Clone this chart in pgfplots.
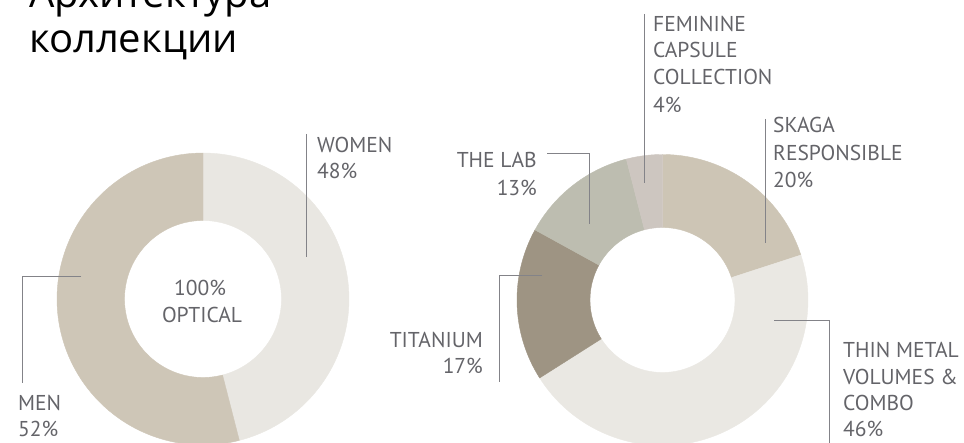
\documentclass[border=0pt]{standalone}
\usepackage{pgfplots}
\pgfplotsset{compat=1.18}
\usepackage{pgfplotstable}
\usepackage{fontspec}
\setmainfont{PT Sans}
\newfontfamily\titlefont{Open Sans}

\definecolor{cmen}{HTML}{CEC6B7}
\definecolor{cwomen}{HTML}{E9E7E2}
\definecolor{cskaga}{HTML}{CDC5B5}
\definecolor{cthin}{HTML}{EAE8E3}
\definecolor{ctitan}{HTML}{9E9483}
\definecolor{clab}{HTML}{BDBDB0}
\definecolor{cfem}{HTML}{CDC6C0}
\definecolor{leader}{HTML}{838388}
\definecolor{txt}{HTML}{646469}

% values as drawn (clockwise from 12 o'clock)
\pgfplotstableread{
label value color
Women 46 cwomen
Men 54 cmen
}\leftdata
\pgfplotstableread{
label value color
Skaga 20 cskaga
ThinMetal 46 cthin
Titanium 17 ctitan
TheLab 13 clab
Feminine 4 cfem
}\rightdata

% ring sector: cx cy R r from% to% colour
% t in [0,1]: outer arc, [1,2]: radial edge, [2,3]: inner arc back
\newcommand\ring[7]{%
  \addplot[fill=#7, draw=#7, line width=0.4pt, line join=round, domain=0:3, samples=301, variable=\t]
   ({#1 + (\t<=1 ? #3 : (\t<=2 ? #3-(#3-#4)*(\t-1) : #4))*sin(3.6*(\t<=1 ? #5+(#6-#5)*\t : (\t<=2 ? #6 : #6-(#6-#5)*(\t-2))))},
    {#2 + (\t<=1 ? #3 : (\t<=2 ? #3-(#3-#4)*(\t-1) : #4))*cos(3.6*(\t<=1 ? #5+(#6-#5)*\t : (\t<=2 ? #6 : #6-(#6-#5)*(\t-2))))}) -- cycle;
}
% donut from a table: table cx cy R r
\newcommand\donut[5]{%
  \pgfplotstablegetrowsof{#1}%
  \pgfmathtruncatemacro\nrows{\pgfplotsretval-1}%
  \xdef\cum{0}%
  \pgfplotsforeachungrouped \i in {0,...,\nrows}{%
    \pgfplotstablegetelem{\i}{value}\of#1\let\v\pgfplotsretval
    \pgfplotstablegetelem{\i}{color}\of#1\let\c\pgfplotsretval
    \pgfmathsetmacro\e{\cum+\v}%
    \edef\tmp{\noexpand\ring{#2}{#3}{#4}{#5}{\cum}{\e}{\c}}\tmp
    \xdef\cum{\e}%
  }%
}
\newcommand\lbl{\fontsize{21.5}{26}\selectfont\color{txt}}

\begin{document}
\begin{tikzpicture}
\begin{axis}[width=964pt, height=442pt, scale only axis,
  xmin=0, xmax=964, ymin=0, ymax=442,
  axis lines=none, xtick=\empty, ytick=\empty, no markers,
  leader/.style={draw=leader, line width=1pt}]
  \donut{\leftdata}{203}{143}{146}{78.5}
  \donut{\rightdata}{662.5}{142}{145.5}{72.5}

  % leader lines
  \addplot[leader] coordinates {(306,308) (306,185)};
  \addplot[leader] coordinates {(81,165) (22,165) (22,59)};
  \addplot[leader] coordinates {(644,428) (644,259)};
  \addplot[leader] coordinates {(765,323) (765,199)};
  \addplot[leader] coordinates {(547,288) (589,288) (589,218)};
  \addplot[leader] coordinates {(542,166) (499,166) (499,60)};
  \addplot[leader] coordinates {(774,121) (829,121) (829,-5)};

  % labels
  \begin{scope}[every node/.style={inner sep=0pt, font=\lbl}]
  \node[anchor=base west] at (axis cs:317,289) {WOMEN};
  \node[anchor=base west] at (axis cs:317,263) {48\%};
  \node[anchor=base west] at (axis cs:18,31) {MEN};
  \node[anchor=base west] at (axis cs:18,5) {52\%};
  \node[anchor=base] at (axis cs:200,146) {100\%};
  \node[anchor=base] at (axis cs:202,119) {OPTICAL};

  \node[anchor=base west] at (axis cs:653,410) {FEMININE};
  \node[anchor=base west] at (axis cs:653,384) {CAPSULE};
  \node[anchor=base west] at (axis cs:653,357) {COLLECTION};
  \node[anchor=base west] at (axis cs:653,329) {4\%};

  \node[anchor=base west] at (axis cs:773,309) {SKAGA};
  \node[anchor=base west] at (axis cs:773,281) {RESPONSIBLE};
  \node[anchor=base west] at (axis cs:773,254) {20\%};

  \node[anchor=base east] at (axis cs:537,274) {THE LAB};
  \node[anchor=base east] at (axis cs:537,246) {13\%};

  \node[anchor=base east] at (axis cs:483,94) {TITANIUM};
  \node[anchor=base east] at (axis cs:483,68) {17\%};

  \node[anchor=base west] at (axis cs:843,84) {THIN METAL};
  \node[anchor=base west] at (axis cs:843,57) {VOLUMES \&};
  \node[anchor=base west] at (axis cs:843,31) {COMBO};
  \node[anchor=base west] at (axis cs:843,5) {46\%};
  \end{scope}

  \node[anchor=base west, inner sep=0pt, font=\titlefont\fontsize{40}{44}\selectfont] at (axis cs:29,434) {Архитектура};
  \node[anchor=base west, inner sep=0pt, font=\titlefont\fontsize{40}{44}\selectfont] at (axis cs:29,389) {коллекции};
\end{axis}
\pgfresetboundingbox
\path[use as bounding box] (0,0) rectangle (964pt,442pt);
\end{tikzpicture}
\end{document}
